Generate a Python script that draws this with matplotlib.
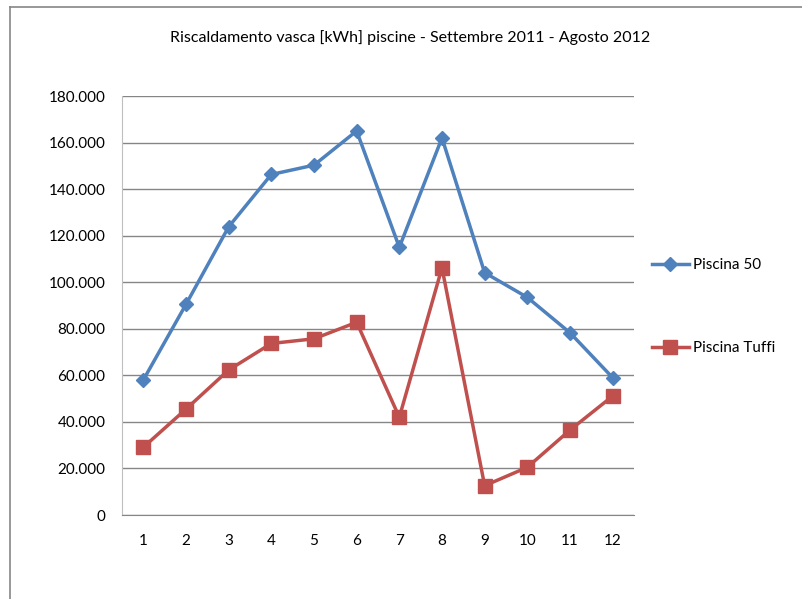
import matplotlib
matplotlib.use("Agg")
import matplotlib.pyplot as plt
from matplotlib.lines import Line2D
from matplotlib.ticker import FuncFormatter, MultipleLocator

plt.rcParams['font.family'] = ['Lato', 'DejaVu Sans']

mesi = [1, 2, 3, 4, 5, 6, 7, 8, 9, 10, 11, 12]
piscina_50 = [58000, 90500, 123800, 146300, 150300, 165000,
              115000, 162000, 104100, 93500, 78300, 59000]
piscina_tuffi = [29100, 45500, 62300, 73700, 75700, 82800,
                 42000, 106200, 12600, 20500, 36500, 51100]

blu = '#4F81BD'
rosso = '#C0504D'
grigio = '#868686'

fig = plt.figure(figsize=(8.02, 5.99), dpi=100)
ax = fig.add_axes([0.1521, 0.1402, 0.7905 - 0.1521, 0.8397 - 0.1402])

ax.plot(mesi, piscina_50, color=blu, lw=2.5, marker='D', ms=7.5,
        mec=blu, label='Piscina 50')
ax.plot(mesi, piscina_tuffi, color=rosso, lw=2.5, marker='s', ms=9.5,
        mec=rosso, label='Piscina Tuffi')

ax.set_xlim(0.5, 12.5)
ax.set_ylim(0, 180000)
ax.yaxis.set_major_locator(MultipleLocator(20000))
ax.yaxis.set_major_formatter(FuncFormatter(
    lambda v, p: '0' if v == 0 else '{:,.0f}'.format(v).replace(',', '.')))
ax.set_xticks(mesi)
ax.grid(axis='y', color=grigio, lw=1)
ax.set_axisbelow(True)
for s in ['top', 'right']:
    ax.spines[s].set_visible(False)
ax.spines['left'].set_color('#BFBFBF')
ax.spines['bottom'].set_color(grigio)
ax.tick_params(length=0, labelsize=11, colors='#000000')
ax.tick_params(axis='y', pad=12)
ax.tick_params(axis='x', pad=14)

fig.text(0.512, 0.938, 'Riscaldamento vasca [kWh] piscine - Settembre 2011 - Agosto 2012',
         ha='center', va='center', fontsize=11.5)

ax.legend(loc='upper left', bbox_to_anchor=(1.02, 0.632), frameon=False,
          fontsize=11, labelspacing=4.55, handlelength=2.4, handletextpad=0.3,
          borderpad=0)

# bordo del grafico
fig.add_artist(Line2D([10 / 802, 10 / 802], [0, 1 - 7 / 599], color=grigio, lw=1.2))
fig.add_artist(Line2D([10 / 802, 1], [1 - 7 / 599, 1 - 7 / 599], color=grigio, lw=1.2))

fig.savefig('out.png', dpi=100)
